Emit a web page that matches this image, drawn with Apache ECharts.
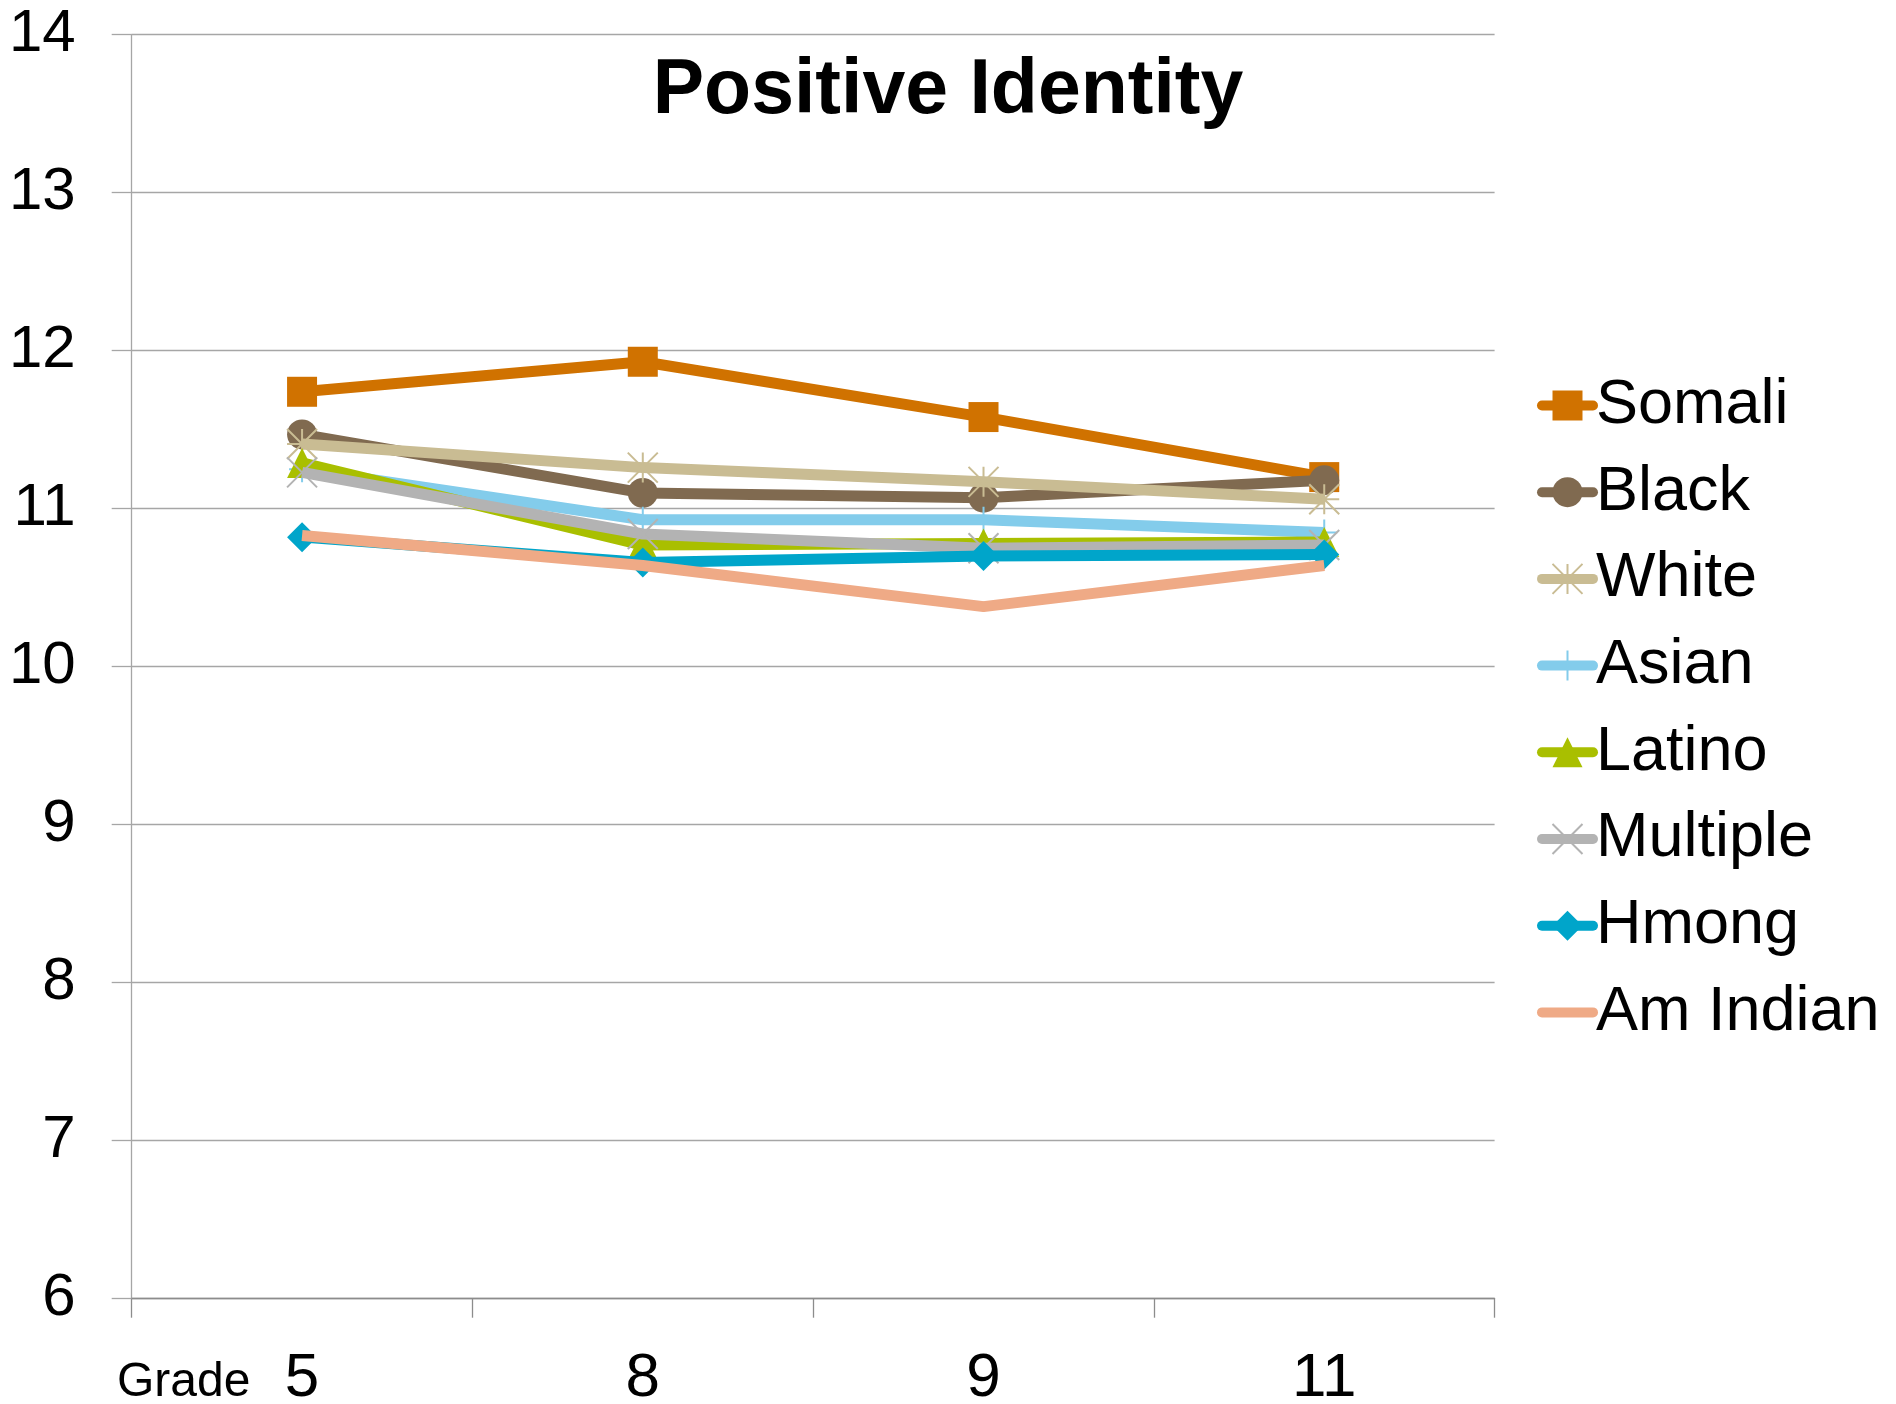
<!DOCTYPE html>
<html>
<head>
<meta charset="utf-8">
<title>Positive Identity</title>
<script src="https://cdn.jsdelivr.net/npm/echarts@6/dist/echarts.min.js"></script>
<style>
  html, body { margin: 0; padding: 0; background: #fff; }
  #chart { width: 1896px; height: 1404px; }
</style>
</head>
<body>
<div id="chart"></div>
<script>
// Grades surveyed
const grades = ['5', '8', '9', '11'];

// Mean Positive Identity scale score by group and grade
const somali   = [11.74, 11.93, 11.58, 11.20];
const black    = [11.47, 11.10, 11.07, 11.18];
const white    = [11.41, 11.26, 11.17, 11.06];
const asian    = [11.25, 10.93, 10.93, 10.85];
const latino   = [11.29, 10.77, 10.78, 10.79];
const multiple = [11.23, 10.84, 10.75, 10.77];
const hmong    = [10.82, 10.66, 10.70, 10.71];
const amIndian = [10.83, 10.64, 10.38, 10.64];

const yTicks = { min: 6, max: 14, step: 1 };

const FONT = "'Liberation Sans', Arial, Helvetica, sans-serif";

// Stroke-only marker shapes
const ASTERISK = 'path://M0 0L30 30M0 30L30 0M15 0L15 30M0 15L30 15';
const CROSS = 'path://M0 0L30 30M0 30L30 0';
const PLUS = 'path://M15 0L15 30M0 15L30 15';

const groups = [
  { name: 'Somali',    data: somali,   color: '#D07200', symbol: 'rect',    size: 30, stroke: false },
  { name: 'Black',     data: black,    color: '#806A50', symbol: 'circle',  size: 30, stroke: false },
  { name: 'White',     data: white,    color: '#C9BC93', symbol: ASTERISK,  size: 30, stroke: true },
  { name: 'Asian',     data: asian,    color: '#83CCEB', symbol: PLUS,      size: 26, stroke: true },
  { name: 'Latino',    data: latino,   color: '#A9BF00', symbol: 'triangle',size: 30, stroke: false },
  { name: 'Multiple',  data: multiple, color: '#B3B3B3', symbol: CROSS,     size: 30, stroke: true },
  { name: 'Hmong',     data: hmong,    color: '#00A5CA', symbol: 'diamond', size: 30, stroke: false },
  { name: 'Am Indian', data: amIndian, color: '#EFAA86', symbol: 'none',    size: 0,  stroke: false }
];

const series = groups.map((g, i) => ({
  name: g.name,
  type: 'line',
  data: g.data,
  z: 2 + i,
  symbol: g.symbol,
  symbolSize: g.size,
  showSymbol: g.symbol !== 'none',
  symbolKeepAspect: true,
  animation: false,
  lineStyle: { color: g.color, width: 11 },
  itemStyle: g.stroke
    ? { color: g.color, borderColor: g.color, borderWidth: 2 }
    : { color: g.color, borderWidth: 0 },
  emphasis: { disabled: true }
}));

const legendData = groups.map(g =>
  g.symbol === 'none'
    ? { name: g.name, itemStyle: { opacity: 0 } }
    : { name: g.name }
);

const chart = echarts.init(document.getElementById('chart'), null, { renderer: 'canvas' });

chart.setOption({
  backgroundColor: '#ffffff',
  animation: false,
  title: {
    text: 'Positive Identity',
    left: 'center',
    top: 48,
    textStyle: { fontFamily: FONT, fontSize: 77, fontWeight: 'bold', color: '#000' }
  },
  legend: {
    orient: 'vertical',
    left: 1537,
    top: 374,
    padding: 0,
    itemWidth: 51,
    itemHeight: 37.5,
    itemGap: 23.7,
    data: legendData,
    selectedMode: false,
    lineStyle: { width: 10, cap: 'round' },
    textStyle: { fontFamily: FONT, fontSize: 63, color: '#000', padding: [0, 0, 0, -2] }
  },
  grid: {
    left: 131.7, right: 401.4, top: 34.7, bottom: 105.3,
    containLabel: false,
    outerBoundsMode: 'none'
  },
  xAxis: {
    type: 'category',
    data: grades,
    boundaryGap: true,
    axisLine: { show: true, lineStyle: { color: '#8C8C8C', width: 1.3 } },
    axisTick: { show: true, length: 19, inside: false, lineStyle: { color: '#8C8C8C', width: 1.3 } },
    axisLabel: { margin: 49, fontFamily: FONT, fontSize: 62, color: '#000' },
    splitLine: { show: false }
  },
  yAxis: {
    type: 'value',
    min: yTicks.min,
    max: yTicks.max,
    interval: yTicks.step,
    axisLine: { show: true, lineStyle: { color: '#A6A6A6', width: 1.3 } },
    axisTick: { show: true, length: 20, inside: false, lineStyle: { color: '#A6A6A6', width: 1.3 } },
    axisLabel: { margin: 56, fontFamily: FONT, fontSize: 60, color: '#000' },
    splitLine: { show: true, lineStyle: { color: '#A6A6A6', width: 1.3 } }
  },
  graphic: [{
    type: 'text',
    left: 117,
    top: 1359,
    style: { text: 'Grade', fontFamily: FONT, fontSize: 48, fill: '#000' }
  }],
  series: series
});
</script>
</body>
</html>
